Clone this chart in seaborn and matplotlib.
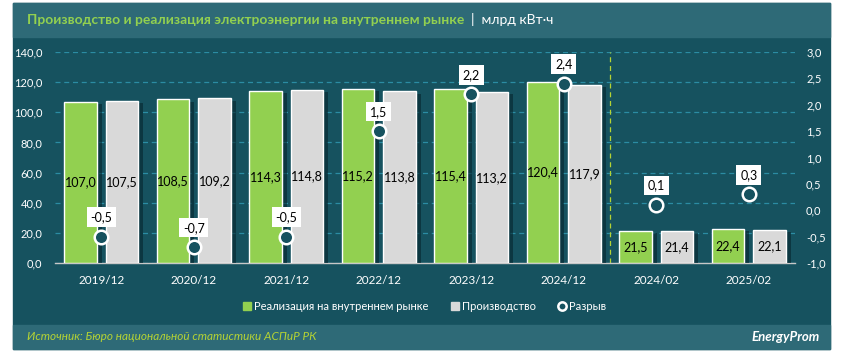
import numpy as np
import pandas as pd
import matplotlib
matplotlib.use('Agg')
import matplotlib.pyplot as plt
import matplotlib.patheffects as pe
from matplotlib.patches import Rectangle
from matplotlib.lines import Line2D
import seaborn as sns

# data
periods = ['2019/12', '2020/12', '2021/12', '2022/12', '2023/12', '2024/12', '2024/02', '2025/02']
sales = [107.0, 108.5, 114.3, 115.2, 115.4, 120.4, 21.5, 22.4]
production = [107.5, 109.2, 114.8, 113.8, 113.2, 117.9, 21.4, 22.1]
gap = [-0.5, -0.7, -0.5, 1.5, 2.2, 2.4, 0.1, 0.3]
series_names = ['Реализация на внутреннем рынке', 'Производство']
gap_name = 'Разрыв'
left_ticks = [0, 20, 40, 60, 80, 100, 120, 140]
right_ticks = [-1.0, -0.5, 0.0, 0.5, 1.0, 1.5, 2.0, 2.5, 3.0]

BG = '#16525f'
BAR_BG = '#2e6a77'
GREEN = '#92d050'
GRAY = '#d9d9d9'
GRID = '#2b8ca3'

def fmt(v):
    return f'{v:.1f}'.replace('.', ',')

sns.set_style('white')
plt.rcParams['font.family'] = ['Lato', 'DejaVu Sans']

fig = plt.figure(figsize=(8.55, 3.6), dpi=100)
W, H = 855, 360

# background panels
for (y0, y1, c) in [(3, 349, BG), (3, 37, BAR_BG), (325, 349, BAR_BG)]:
    fig.patches.append(Rectangle((13 / W, 1 - y1 / H), (830 - 13) / W, (y1 - y0) / H,
                                 transform=fig.transFigure, color=c, zorder=-5))

ax = fig.add_axes([55 / W, 1 - 263 / H, (795 - 55) / W, (263 - 52) / H])
ax.set_facecolor('none')
ax.set_zorder(1)

df = pd.DataFrame({
    'period': periods * 2,
    'series': [series_names[0]] * len(periods) + [series_names[1]] * len(periods),
    'value': sales + production,
})

sns.barplot(data=df, x='period', y='value', hue='series', palette=[GREEN, GRAY],
            width=0.9, gap=0.22, saturation=1, legend=False, ax=ax, zorder=3)

# soft shadow to the right of each bar
for patch in ax.patches:
    patch.set_path_effects([pe.withSimplePatchShadow(offset=(3.5, -1.5), shadow_rgbFace='#06262e', alpha=0.6)])

for cont in ax.containers:
    ax.bar_label(cont, labels=[fmt(b.get_height()) for b in cont], label_type='center',
                 fontsize=9, color='black', zorder=5)

ax.set_ylim(0, 140)
ax.set_xlim(-0.5, len(periods) - 0.5)
ax.set_yticks(left_ticks)
ax.set_yticklabels([fmt(t) for t in left_ticks])
ax.yaxis.grid(True, color=GRID, linestyle=(0, (4, 3)), linewidth=0.9)
ax.set_axisbelow(True)
ax.tick_params(axis='both', length=0, colors='white', labelsize=8)
ax.tick_params(axis='x', pad=9, labelsize=8.5)
ax.tick_params(axis='y', pad=9)
ax.set_xlabel('')
ax.set_ylabel('')
for s in ['top', 'left', 'right']:
    ax.spines[s].set_visible(False)
ax.spines['bottom'].set_color('#c8c8c8')
ax.spines['bottom'].set_linewidth(1)

ax.axvline(5.5, color='#b5d334', linestyle=(0, (4, 3)), linewidth=0.9, zorder=2)

# gap series on the right axis
ax2 = ax.twinx()
ax2.set_facecolor('none')
xs = np.arange(len(periods))
sns.scatterplot(x=xs, y=gap, ax=ax2, s=95, color=BG, edgecolor='white', linewidth=1.8,
                zorder=6, legend=False)
for x, g in zip(xs, gap):
    ax2.annotate(fmt(g), (x, g), xytext=(0, 14), textcoords='offset points',
                 ha='center', va='center', fontsize=9, color='black', zorder=7,
                 bbox=dict(boxstyle='square,pad=0.3', fc='white', ec='none'))
ax2.set_ylim(-1, 3)
ax2.set_xlim(-0.5, len(periods) - 0.5)
ax2.set_yticks(right_ticks)
ax2.set_yticklabels([fmt(t) for t in right_ticks])
ax2.tick_params(axis='y', length=0, colors='white', labelsize=8, pad=8)
for s in ['top', 'left', 'right', 'bottom']:
    ax2.spines[s].set_visible(False)

# title
t1 = fig.text(27 / W, 1 - 20 / H, 'Производство и реализация электроэнергии на внутреннем рынке',
              color=GREEN, fontsize=10, fontweight='bold', va='center')
ax.annotate('  |  млрд кВт·ч', xy=(1, 0.5), xycoords=t1, va='center', ha='left',
            color='white', fontsize=10, annotation_clip=False)

# legend
handles = [
    Line2D([], [], marker='s', linestyle='none', markersize=6, color=GREEN),
    Line2D([], [], marker='s', linestyle='none', markersize=6, color=GRAY),
    Line2D([], [], marker='o', linestyle='none', markersize=6, markerfacecolor=BG,
           markeredgecolor='white', markeredgewidth=1.8),
]
leg = fig.legend(handles, series_names + [gap_name], loc='center', ncol=3,
                 bbox_to_anchor=(424 / W, 1 - 306 / H), frameon=False, fontsize=8,
                 handletextpad=0.1, columnspacing=1.9, handlelength=1.0)
for txt in leg.get_texts():
    txt.set_color('white')

# footer
fig.text(27 / W, 1 - 337 / H, 'Источник: Бюро национальной статистики АСПиР РК',
         color='#b5d334', fontsize=8.5, style='italic', va='center')
fig.text(820 / W, 1 - 337 / H, 'EnergyProm', color='white', fontsize=9.5,
         fontweight='bold', style='italic', va='center', ha='right')

fig.savefig('out.png', dpi=100, facecolor='white')
